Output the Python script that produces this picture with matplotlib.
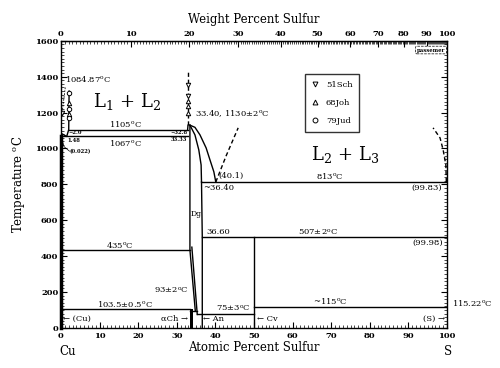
import numpy as np
import matplotlib
matplotlib.use("Agg")
import matplotlib.pyplot as plt
from matplotlib.ticker import MultipleLocator, FixedLocator

plt.rcParams['font.family'] = ['DejaVu Serif']
plt.rcParams['mathtext.fontset'] = 'dejavuserif'

M_CU, M_S = 63.546, 32.06

# ---- data ----
wt_ticks = [0, 10, 20, 30, 40, 50, 60, 70, 80, 90, 100]
temp_ticks = [0, 200, 400, 600, 800, 1000, 1200, 1400, 1600]
at_ticks = [0, 10, 20, 30, 40, 50, 60, 70, 80, 90, 100]

# invariant lines: (x_start, x_end, T)
h_lines = {
    'mono1': (2.0, 32.8, 1105),
    'eut': (0.0, 32.8, 1067),
    'mono2': (36.4, 100.0, 813),
    'cv': (36.6, 100.0, 507),
    'dg_eutd': (0.0, 33.4, 435),
    'cu_ch': (0.0, 33.4, 103.5),
    'ch_eut': (33.4, 35.2, 93),
    'an': (35.2, 50.0, 75),
    's': (50.0, 100.0, 115.22),
}

liq_x = [33.4, 34.7, 36.0, 37.6, 38.6, 39.6, 40.1]
liq_T = [1130, 1118, 1076, 1003, 936, 870, 813]
sol_x = [33.4, 34.7, 35.7, 36.3, 36.4]
sol_T = [1130, 1076, 992, 908, 813]
dgR_x = [36.4, 36.6, 36.6, 36.6]
dgR_T = [813, 507, 75, 0]
dgL_x = [33.4, 33.4, 34.8]
dgL_T = [1130, 435, 93]
dj_x = [33.9, 35.3]
dj_T = [450, 75]
gap2L_x = [40.1, 42.8, 45.9]
gap2L_T = [813, 960, 1115]
gap2R_x = [99.83, 99.7, 99.0, 98.2, 96.4]
gap2R_T = [813, 909, 992, 1059, 1115]
cuLiq_x = [0.0, 1.48, 2.0, 2.1]
cuLiq_T = [1084.87, 1067, 1105, 1320]
cu2sGap_x = [32.8, 32.9]
cu2sGap_T = [1105, 1130]
cu2sDash_x = [32.9, 32.9]
cu2sDash_T = [1130, 1440]
cv_x = [50.0, 50.0]
cv_T = [0, 507]
ch_x = [33.3, 34.1]
ch_T = 103.5

sch_x = [0.3, 32.9, 32.9]
sch_T = [1200, 1355, 1290]
joh_x = [2.1, 2.1, 32.9, 32.9, 32.9]
joh_T = [1255, 1195, 1262, 1238, 1200]
jud_x = [2.1, 2.1, 2.1]
jud_T = [1310, 1220, 1170]


def at_from_wt(w):
    w = np.asarray(w, dtype=float)
    a = w / M_S
    b = (100 - w) / M_CU
    return 100 * a / (a + b)


fig = plt.figure(figsize=(5.0, 3.68), dpi=100)
ax = fig.add_axes([0.122, 0.109, 0.772, 0.780])
ax.set_xlim(0, 100)
ax.set_ylim(0, 1600)

lw = 1.0
k = 'black'
for x0, x1, T in h_lines.values():
    ax.plot([x0, x1], [T, T], color=k, lw=lw)
ax.plot(liq_x, liq_T, color=k, lw=lw)
ax.plot(sol_x, sol_T, color=k, lw=lw)
ax.plot(dgR_x, dgR_T, color=k, lw=lw)
ax.plot(dgL_x, dgL_T, color=k, lw=lw)
ax.plot(dj_x, dj_T, color=k, lw=lw)
ax.plot(gap2L_x, gap2L_T, color=k, lw=lw, ls=(0, (3, 2)))
ax.plot(gap2R_x, gap2R_T, color=k, lw=lw, ls=(0, (3, 2)))
ax.plot(cuLiq_x, cuLiq_T, color=k, lw=lw)
ax.plot(cu2sGap_x, cu2sGap_T, color=k, lw=lw)
ax.plot(cu2sDash_x, cu2sDash_T, color=k, lw=lw, ls=(0, (3, 2)))
ax.plot(cv_x, cv_T, color=k, lw=lw)
ax.plot([0, 0], [0, 1067], color=k, lw=2.5, clip_on=False)
ax.fill_between(ch_x, 0, ch_T, color=k, lw=0)
# leader lines
ax.plot([1.1, 0.3], [1340, 1200], color=k, lw=0.6, ls=(0, (2, 1.5)))
ax.plot([0.1, 0.8, 2.2], [1060, 1010, 985], color=k, lw=0.5)

mk = dict(ls='none', ms=3.2, mfc='white', mec=k, mew=0.7)
ax.plot(sch_x, sch_T, marker='v', label='51Sch', **mk)
ax.plot(joh_x, joh_T, marker='^', label='68Joh', **mk)
ax.plot(jud_x, jud_T, marker='o', label='79Jud', **mk)

leg = ax.legend(loc='upper left', bbox_to_anchor=(0.632, 0.885), fontsize=6,
                frameon=True, fancybox=False, edgecolor='black',
                handlelength=0.8, handletextpad=0.9, labelspacing=1.25,
                borderpad=0.8, borderaxespad=0)
leg.get_frame().set_linewidth(1.0)
for h in leg.legend_handles:
    h.set_markersize(3.5)

deg = r'$^{\rm o}$C'
fs = 6
small = 3.8
def t(x, y, s, size=fs, ha='center', va='center', **kw):
    ax.text(x, y, s, fontsize=size, ha=ha, va=va, zorder=5, **kw)

t(1.0, 1385, '1084.87' + deg, ha='left')
t(17.1, 1262, r'L$_1$ + L$_2$', size=13)
t(16.6, 1110, '1105' + deg, va='bottom')
t(16.6, 1030, '1067' + deg)
t(1.8, 1087, '~2.0', size=small, ha='left', weight='bold')
t(1.6, 1042, '1.48', size=small, ha='left', weight='bold')
t(2.3, 981, '(0.022)', size=small, ha='left', weight='bold')
t(32.7, 1088, '~32.8', size=small, ha='right', weight='bold')
t(32.7, 1050, '33.33', size=small, ha='right', weight='bold')
t(34.7, 1193, '33.40, 1130±2' + deg, ha='left')
t(40.7, 847, '(40.1)', ha='left')
t(36.8, 780, '~36.40', ha='left')
t(33.6, 635, 'Dg', size=5.5, ha='left')
t(69.7, 847, '813' + deg)
t(73.6, 964, r'L$_2$ + L$_3$', size=13)
t(98.7, 780, '(99.83)', ha='right')
t(37.6, 535, '36.60', ha='left')
t(66.6, 535, '507±2' + deg)
t(99.0, 474, '(99.98)', ha='right')
t(15.3, 463, '435' + deg)
t(69.7, 150, '~115' + deg)
ax.text(101.3, 139, '115.22' + deg, fontsize=fs, ha='left', va='center', clip_on=False)
t(33.0, 212, '93±2' + deg, ha='right')
t(16.6, 134, '103.5±0.5' + deg)
t(44.6, 113, '75±3' + deg)
t(0.6, 50, '← (Cu)', ha='left')
t(32.9, 50, 'αCh →', ha='right')
t(36.8, 50, '← An', ha='left')
t(50.8, 50, '← Cv', ha='left')
t(99.4, 50, '(S) →', ha='right')

ax.text(0.995, 0.968, 'passemer', transform=ax.transAxes, fontsize=3.8,
        weight='bold', ha='right', va='center',
        bbox=dict(boxstyle='round,pad=0.25', fc='white', ec='black', lw=0.5, ls='--'))

# axes / ticks
ax.xaxis.set_major_locator(FixedLocator(at_ticks))
ax.xaxis.set_minor_locator(MultipleLocator(1))
ax.yaxis.set_major_locator(FixedLocator(temp_ticks))
ax.yaxis.set_minor_locator(MultipleLocator(20))
ax.tick_params(axis='both', which='major', direction='in', length=4, width=0.8,
               labelsize=6, top=False, right=True, pad=2)
ax.tick_params(axis='both', which='minor', direction='in', length=2, width=0.5,
               top=False, right=True)
ax.tick_params(axis='x', pad=3)
for lab in ax.get_xticklabels() + ax.get_yticklabels():
    lab.set_fontweight('bold')
for s in ax.spines.values():
    s.set_linewidth(1.0)

top = ax.secondary_xaxis('top', functions=(lambda a: a, lambda a: a))
top.xaxis.set_major_locator(FixedLocator(at_from_wt(wt_ticks)))
top.xaxis.set_minor_locator(FixedLocator(at_from_wt(np.arange(0, 100.01, 0.5))))
top.set_xticklabels([str(w) for w in wt_ticks])
top.tick_params(which='major', direction='in', length=4, width=0.8, labelsize=6, pad=2)
top.tick_params(which='minor', direction='in', length=2, width=0.5)
for lab in top.get_xticklabels():
    lab.set_fontweight('bold')
top.set_xlabel('Weight Percent Sulfur', fontsize=8.5, labelpad=5)

ax.set_xlabel('Atomic Percent Sulfur', fontsize=8.5, labelpad=1)
ax.set_ylabel('Temperature ' + deg, fontsize=8.5, labelpad=6)
fig.text(0.136, 0.045, 'Cu', fontsize=8.5, ha='center', va='center')
fig.text(0.896, 0.045, 'S', fontsize=8.5, ha='center', va='center')

fig.savefig('out.png', dpi=100)
